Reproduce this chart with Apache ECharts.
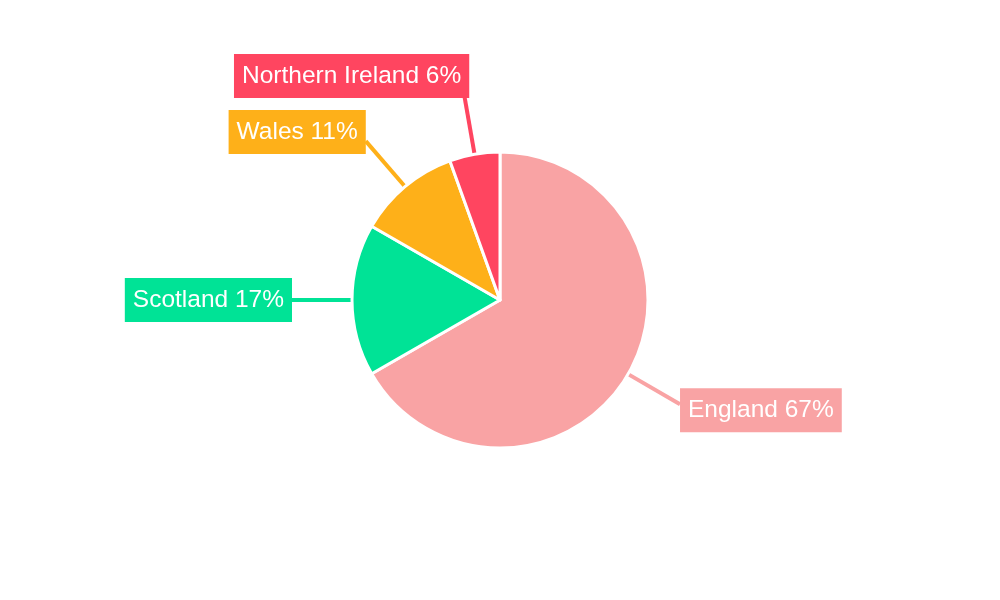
<!DOCTYPE html>
<html><head><meta charset="utf-8">
<script src="https://cdn.jsdelivr.net/npm/echarts@6/dist/echarts.min.js"></script>
<style>html,body{margin:0;padding:0;background:#fff}#c{width:1000px;height:600px}</style>
</head><body><div id="c"></div>
<script>
const categories = ['England', 'Scotland', 'Wales', 'Northern Ireland'];
const values = [66.7, 16.6, 11.2, 5.5];
const colors = ['#F9A3A4', '#00E396', '#FEB019', '#FF4560'];
// small label nudges (px) away from the default outside-label anchor
const labelNudgeX = [0, 0, 0, 5];
const labelNudgeY = [6, 0, -9, -19];

const chart = echarts.init(document.getElementById('c'));
chart.setOption({
  animation: false,
  series: [{
    type: 'pie',
    center: [500, 300],
    radius: [0, 148],
    startAngle: 90,
    clockwise: true,
    data: categories.map((n, i) => ({ name: n, value: values[i], itemStyle: { color: colors[i] } })),
    itemStyle: { borderColor: '#fff', borderWidth: 3 },
    label: {
      show: true,
      position: 'outside',
      formatter: p => p.name + ' ' + Math.round(p.percent) + '%',
      color: '#fff',
      fontFamily: 'Liberation Sans, Arial, sans-serif',
      fontSize: 24.5,
      lineHeight: 24,
      padding: [10, 8],
      backgroundColor: 'inherit',
      distanceToLabelLine: 0
    },
    labelLine: {
      show: true,
      length: 60,
      length2: 0,
      smooth: false,
      lineStyle: { width: 4 }
    },
    labelLayout: p => ({ dx: labelNudgeX[p.dataIndex], dy: labelNudgeY[p.dataIndex] })
  }]
});
</script></body></html>
